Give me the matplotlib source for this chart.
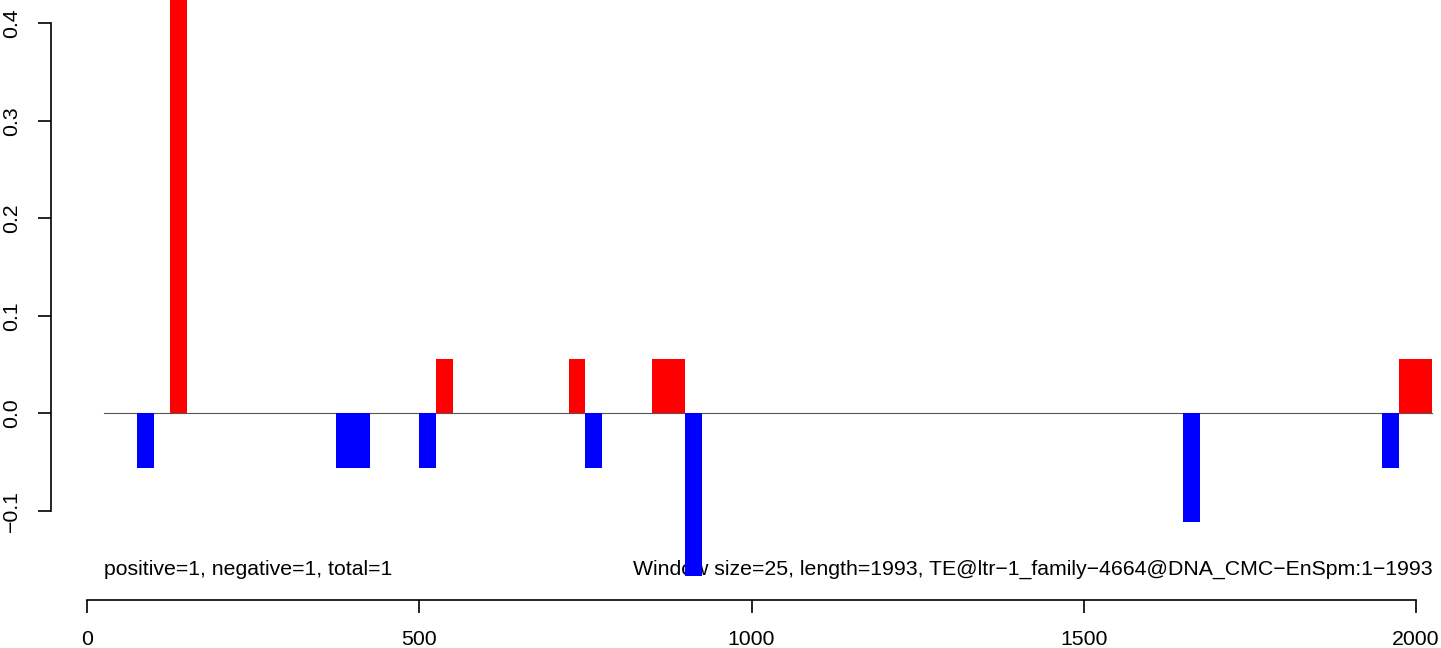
import matplotlib
matplotlib.use('Agg')
import matplotlib.pyplot as plt

plt.rcParams['font.family'] = ['Liberation Sans', 'DejaVu Sans']

window = 25
# window start positions and their scores
pos_starts = [125, 525, 725, 850, 875, 1975, 2000]
pos_values = [0.444, 0.0556, 0.0556, 0.0556, 0.0556, 0.0556, 0.0556]
neg_starts = [75, 375, 400, 500, 750, 900, 1650, 1950]
neg_values = [-0.0556, -0.0556, -0.0556, -0.0556, -0.0556, -0.1667, -0.1111, -0.0556]
xticks = [0, 500, 1000, 1500, 2000]
yticks = [-0.1, 0.0, 0.1, 0.2, 0.3, 0.4]
left_text = 'positive=1, negative=1, total=1'
right_text = 'Window size=25, length=1993, TE@ltr\u22121_family\u22124664@DNA_CMC\u2212EnSpm:1\u22121993'

fig = plt.figure(figsize=(14.41, 6.48), dpi=100)
ax = fig.add_axes([0, 0, 1, 1])
ax.set_xlim(-131.5, 2038.1)
ax.set_ylim(-0.2407, 0.4239)

ax.plot([25, 2025], [0, 0], color='#555555', linewidth=0.8, zorder=1)
ax.text(25, -0.1597, left_text, fontsize=15.3, ha='left', va='center', zorder=2)
ax.text(2025, -0.1597, right_text, fontsize=15.3, ha='right', va='center', zorder=2)

ax.bar(pos_starts, pos_values, width=window, align='edge', color='red', linewidth=0, zorder=3)
ax.bar(neg_starts, neg_values, width=window, align='edge', color='blue', linewidth=0, zorder=3)

for s in ['top', 'right']:
    ax.spines[s].set_visible(False)
ax.spines['left'].set_position(('data', -54.8))
ax.spines['left'].set_bounds(-0.1, 0.4)
ax.spines['bottom'].set_position(('data', -0.1915))
ax.spines['bottom'].set_bounds(0, 2000)
for s in ['left', 'bottom']:
    ax.spines[s].set_linewidth(1.2)

ax.set_xticks(xticks)
ax.set_xticklabels([str(t) for t in xticks])
ax.set_yticks(yticks)
ax.set_yticklabels(['\u22120.1', '0.0', '0.1', '0.2', '0.3', '0.4'], rotation=90, va='center')
ax.tick_params(direction='out', length=9.4, width=1.2, pad=12, labelsize=15.3)

fig.savefig('out.png', dpi=100)
